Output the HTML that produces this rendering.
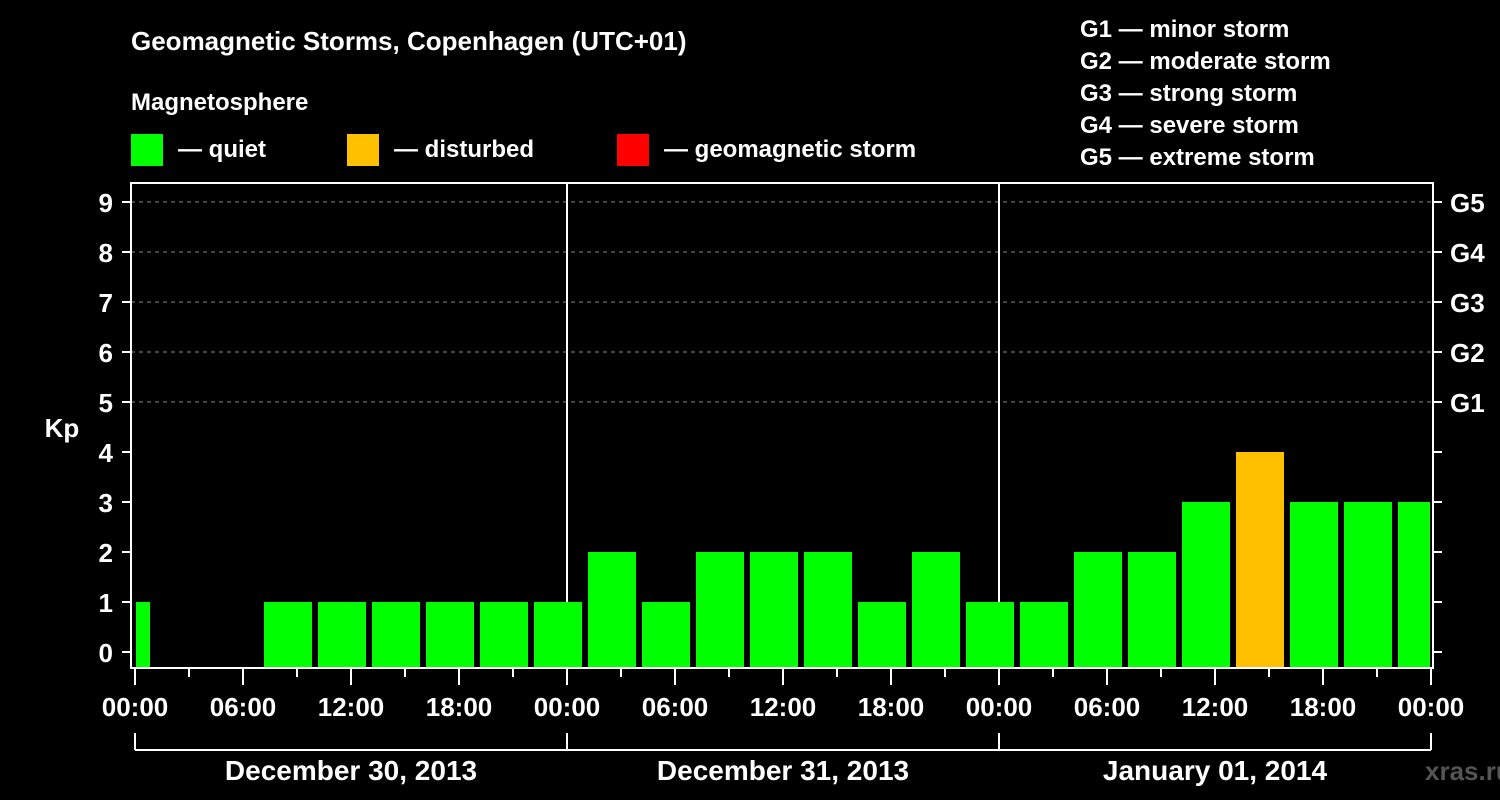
<!DOCTYPE html>
<html><head><meta charset="utf-8"><style>
html,body{margin:0;padding:0;background:#000;}
svg{display:block;font-family:"Liberation Sans",Arial,sans-serif;font-weight:bold;}
</style></head><body>
<svg id="chart" width="1500" height="800" viewBox="0 0 1500 800">
<rect x="0" y="0" width="1500" height="800" fill="#000"/>
<text x="131" y="50" fill="#fff" font-size="26">Geomagnetic Storms, Copenhagen (UTC+01)</text>
<text x="131" y="110" fill="#fff" font-size="24">Magnetosphere</text>
<g><rect x="131" y="134" width="32" height="32" fill="#00ff00"/><text x="178" y="157" fill="#fff" font-size="24">— quiet</text></g>
<g><rect x="347" y="134" width="32" height="32" fill="#ffc000"/><text x="394" y="157" fill="#fff" font-size="24">— disturbed</text></g>
<g><rect x="617" y="134" width="32" height="32" fill="#ff0000"/><text x="664" y="157" fill="#fff" font-size="24">— geomagnetic storm</text></g>
<g fill="#fff" font-size="24">
<text x="1080" y="37">G1 — minor storm</text>
<text x="1080" y="69">G2 — moderate storm</text>
<text x="1080" y="101">G3 — strong storm</text>
<text x="1080" y="133">G4 — severe storm</text>
<text x="1080" y="165">G5 — extreme storm</text>
</g>
<text x="62" y="437" fill="#fff" font-size="26" text-anchor="middle">Kp</text>
<text x="1425" y="780" fill="#555" font-size="26">xras.ru</text>
<g id="grid"></g>
<g id="bars"></g>
<g id="axes"></g>
</svg>
<script>
const kpValues = [1, null, null, 1, 1, 1, 1, 1, 1, 2, 1, 2, 2, 2, 1, 2, 1, 1, 2, 2, 3, 4, 3, 3, 3];
const yTicks = [0,1,2,3,4,5,6,7,8,9];
const gLabels = ["G1","G2","G3","G4","G5"];
const xTickLabels = ["00:00","06:00","12:00","18:00","00:00","06:00","12:00","18:00","00:00","06:00","12:00","18:00","00:00"];
const dayLabels = ["December 30, 2013","December 31, 2013","January 01, 2014"];

const NS="http://www.w3.org/2000/svg";
const L=131,R=1433,T=183,B=668,X0=135,HR=18;
const y=v=>652-v*50;
const x=h=>X0+h*HR;
function mk(tag,attrs,parent,text){const e=document.createElementNS(NS,tag);for(const k in attrs)e.setAttribute(k,attrs[k]);if(text!==undefined)e.textContent=text;parent.appendChild(e);return e;}
const grid=document.getElementById('grid'),bars=document.getElementById('bars'),axes=document.getElementById('axes');

// gridlines for G levels
gLabels.forEach((g,i)=>{
  const v=5+i;
  const ln=mk('line',{x1:L,x2:R,y1:y(v),y2:y(v),stroke:'#888','stroke-dasharray':'4,4','stroke-width':1},grid);
  
  
  const t=mk('text',{x:1450,y:y(v)+10,fill:'#fff','font-size':26},axes,g);
  
  
});
// day separators
[1,2].forEach(d=>{
  const ln=mk('line',{x1:x(24*d),x2:x(24*d),y1:T,y2:B,stroke:'#fff','stroke-width':2},grid);
  
  
});
// bars: 3-hour slots starting at 01:00 local minus one slot
const clip=mk('clipPath',{id:'pc'},document.getElementById('chart'));
mk('rect',{x:X0+1,y:T,width:x(72)-X0-2,height:B-T},clip);
bars.setAttribute('clip-path','url(#pc)');
kpValues.forEach((v,i)=>{
  if(v===null)return;
  const h0=-2+3*i;
  const r=mk('rect',{x:x(h0)+3,y:y(v),width:48,height:B-1-y(v),fill:v>=5?'#ff0000':(v>=4?'#ffc000':'#00ff00')},bars);
  
  
});
// frame
const fr=mk('rect',{x:L,y:T,width:R-L,height:B-T,fill:'none',stroke:'#fff','stroke-width':2},axes);


// y ticks
yTicks.forEach(v=>{
  mk('line',{x1:122,x2:L,y1:y(v),y2:y(v),stroke:'#fff','stroke-width':2},axes);
  mk('line',{x1:R,x2:1442,y1:y(v),y2:y(v),stroke:'#fff','stroke-width':2},axes);
  const t=mk('text',{x:113,y:y(v)+10,fill:'#fff','font-size':26,'text-anchor':'end'},axes,String(v));
  
  
});
// x ticks
for(let h=0;h<=72;h+=3){
  const major=h%6===0;
  mk('line',{x1:x(h),x2:x(h),y1:B,y2:major?685:677,stroke:'#fff','stroke-width':2},axes);
}
xTickLabels.forEach((s,i)=>{
  const t=mk('text',{x:x(i*6),y:716,fill:'#fff','font-size':26,'text-anchor':'middle'},axes,s);
  
  
});
// day bracket
mk('line',{x1:x(0),x2:x(72),y1:750,y2:750,stroke:'#fff','stroke-width':2},axes);
for(let d=0;d<=3;d++)mk('line',{x1:x(24*d),x2:x(24*d),y1:733,y2:750,stroke:'#fff','stroke-width':2},axes);
dayLabels.forEach((s,i)=>{
  const t=mk('text',{x:x(24*i+12),y:780,fill:'#fff','font-size':28,'text-anchor':'middle'},axes,s);
  
  
});
</script>
</body></html>
